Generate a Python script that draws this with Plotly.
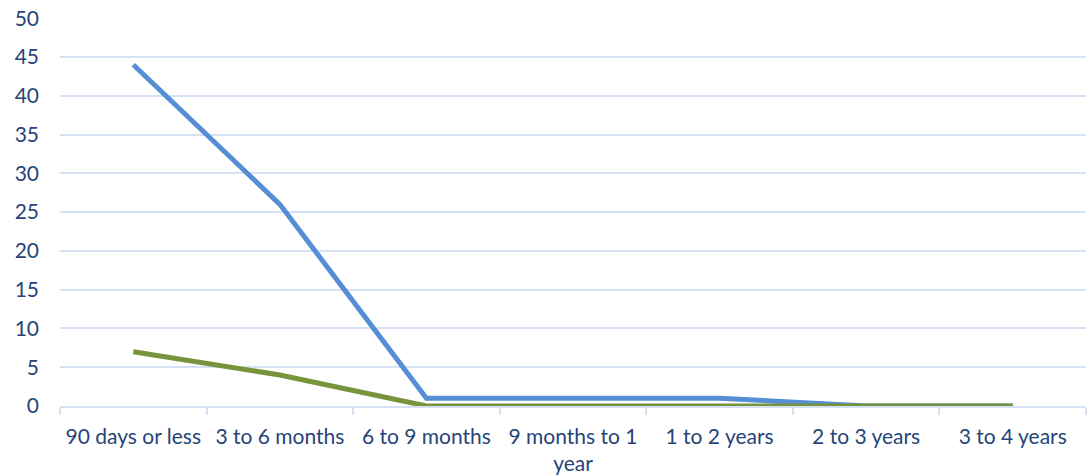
import plotly.graph_objects as go

categories = ["90 days or less", "3 to 6 months", "6 to 9 months", "9 months to 1<br>year",
              "1 to 2 years", "2 to 3 years", "3 to 4 years"]
series_blue = [44, 26, 1, 1, 1, 0, 0]
series_green = [7, 4, 0, 0, 0, 0, 0]
y_ticks = [0, 5, 10, 15, 20, 25, 30, 35, 40, 45, 50]

text_color = "#264478"
grid_color = "#D6E2F3"

fig = go.Figure()
fig.add_trace(go.Scatter(x=categories, y=series_blue, mode="lines",
                         line=dict(color="#558ED5", width=5), showlegend=False))
fig.add_trace(go.Scatter(x=categories, y=series_green, mode="lines",
                         line=dict(color="#77933C", width=5), showlegend=False))

fig.update_layout(
    width=1090, height=476,
    margin=dict(l=60, r=4, t=18, b=70),
    paper_bgcolor="white", plot_bgcolor="white",
    font=dict(family="Lato, Carlito, sans-serif", size=21, color=text_color),
)
fig.update_xaxes(
    type="category", tickson="boundaries", ticks="outside", ticklen=7,
    tickcolor=grid_color, tickwidth=1.5, showline=True, linecolor=grid_color, linewidth=1.5,
    showgrid=False, ticklabelstandoff=11, tickfont=dict(size=21, color=text_color),
    range=[-0.5, 6.5], automargin=False, ticklabeloverflow="allow",
)
fig.update_yaxes(
    range=[0, 50.03], tickvals=y_ticks, showgrid=True, gridcolor=grid_color, gridwidth=1.5,
    zeroline=False, ticklabelstandoff=20, tickfont=dict(size=21, color=text_color),
    automargin=False, ticklabeloverflow="allow",
)

# remove the browser's default 8px body margin so the figure fills the window
fig.write_html("out.html", config={"displayModeBar": False},
               post_script="document.body.style.margin='0';document.body.style.overflow='hidden';")
